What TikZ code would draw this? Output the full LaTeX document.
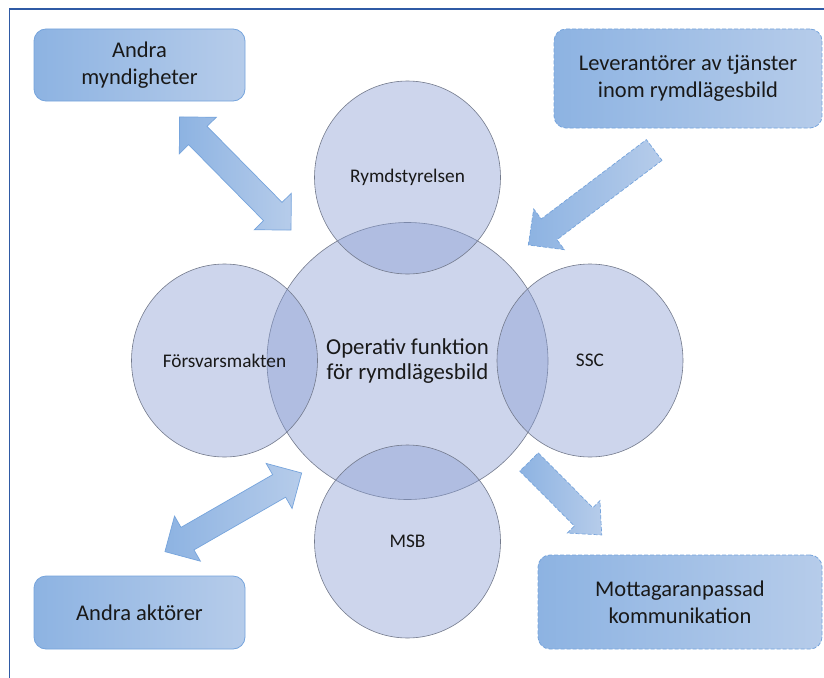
\documentclass[tikz,border=0pt]{standalone}
\usepackage{fontspec}
\setmainfont{Carlito}
\usetikzlibrary{shapes.geometric}
\definecolor{circfill}{RGB}{136,156,210}
\definecolor{circline}{RGB}{115,122,140}
\definecolor{boxL}{RGB}{141,179,226}
\definecolor{boxR}{RGB}{182,204,234}
\definecolor{boxline}{RGB}{118,164,220}
\definecolor{frameblue}{RGB}{47,90,165}
\definecolor{txt}{RGB}{25,25,25}
\newcommand\sglarrow[7]{% style, tail x, tail y, angle, length, head half width, head length
  \begin{scope}[shift={(#2,#3)},rotate=#4]
    \path[#1] (0,-13) -- ({#5-#7},-13) -- ({#5-#7},-#6) -- (#5,0) -- ({#5-#7},#6) -- ({#5-#7},13) -- (0,13) -- cycle;
  \end{scope}}
\newcommand\dblarrow[5]{% style, center x, center y, angle, length
  \begin{scope}[shift={(#2,#3)},rotate=#4]
    \path[#1] ({-#5/2},0) -- ({-#5/2+26},-26) -- ({-#5/2+26},-13) -- ({#5/2-26},-13) -- ({#5/2-26},-26) -- ({#5/2},0) -- ({#5/2-26},26) -- ({#5/2-26},13) -- ({-#5/2+26},13) -- ({-#5/2+26},26) -- cycle;
  \end{scope}}
\begin{document}
\begin{tikzpicture}[x=1pt,y=-1pt,
  sat/.style={ellipse, minimum width=186pt, minimum height=193pt, inner sep=0pt,
    fill=circfill, fill opacity=0.42, text opacity=1, draw=circline, line width=0.6pt,
    font=\fontsize{19.3}{23}\selectfont, text=txt},
  core/.style={sat, minimum width=281pt, minimum height=277pt, align=center,
    font=\fontsize{22.8}{25}\selectfont},
  box/.style={rounded corners=12pt, left color=boxL, right color=boxR, draw=boxline,
    line width=0.8pt, align=center, font=\fontsize{22.5}{27}\selectfont, text=txt, inner sep=0pt},
  dbox/.style={box, dash pattern=on 4pt off 2pt},
  barr/.style={left color=boxL, right color=boxR, draw=boxline, line width=0.7pt},
  dbarr/.style={barr, dash pattern=on 4pt off 2pt}
]
\useasboundingbox (0,0) rectangle (824,677);
\fill[white] (0,0) rectangle (824,677);
\draw[frameblue, line width=1.6pt] (9.3,680) -- (9.3,9.3) -- (830,9.3);

% circles
\node[core] (core) at (407.5,361) {Operativ funktion\\för rymdlägesbild};
\node[sat] (rs) at (407.5,177.5) {Rymdstyrelsen};
\node[sat] (fm) at (224.5,360.5) {Försvarsmakten};
\node[sat] (ssc) at (590,360.5) {SSC};
\node[sat] (msb) at (407.5,541.5) {MSB};

% boxes
\node[box, minimum width=211pt, minimum height=72pt] (am) at (139.5,65) {Andra\\myndigheter};
\node[dbox, minimum width=268pt, minimum height=99pt] (lev) at (688,78.5) {Leverantörer av tjänster\\inom rymdlägesbild};
\node[box, minimum width=211pt, minimum height=73pt] (aa) at (139.5,612.5) {Andra aktörer};
\node[dbox, minimum width=284pt, minimum height=94pt] (mk) at (680,602) {Mottagaranpassad\\kommunikation};

% block arrows
\dblarrow{barr}{235.3}{173.5}{-45.4}{158.8}
\sglarrow{dbarr}{654.2}{150}{-142.96}{157.7}{25.5}{26}
\dblarrow{barr}{233.3}{512.3}{29.9}{157.7}
\sglarrow{dbarr}{529}{462}{-45.1}{103}{23}{25.6}
\end{tikzpicture}
\end{document}
